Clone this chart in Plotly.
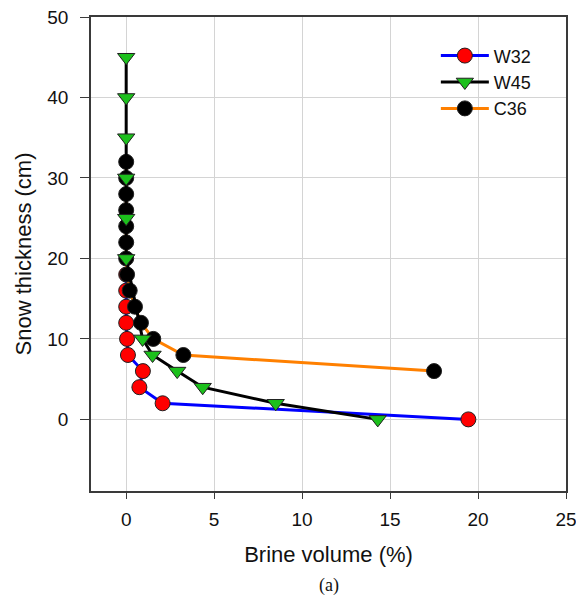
import plotly.graph_objects as go

# W32 series
w32_x = [0.0, 0.0, 0.0, 0.0, 0.05, 0.1, 0.95, 0.75, 2.07, 19.45]
w32_y = [18, 16, 14, 12, 10, 8, 6, 4, 2, 0]

# W45 series
w45_x = [0.0, 0.0, 0.0, 0.0, 0.0, 0.0, 0.93, 1.5, 2.9, 4.35, 8.5, 14.3]
w45_y = [45, 40, 35, 30, 25, 20, 10, 8, 6, 4, 2, 0]

# C36 series
c36_x = [0.0, 0.0, 0.0, 0.0, 0.0, 0.0, 0.0, 0.05, 0.2, 0.5, 0.84, 1.54, 3.25, 17.5]
c36_y = [32, 30, 28, 26, 24, 22, 20, 18, 16, 14, 12, 10, 8, 6]

x_ticks = [0, 5, 10, 15, 20, 25]
y_ticks = [0, 10, 20, 30, 40, 50]

fig = go.Figure()
fig.add_trace(go.Scatter(
    x=w32_x, y=w32_y, name="W32", mode="lines+markers", legendrank=1,
    line=dict(color="#0000ff", width=3),
    marker=dict(symbol="circle", size=15, color="#ff0000", line=dict(color="#202020", width=1)),
))
fig.add_trace(go.Scatter(
    x=c36_x, y=c36_y, name="C36", mode="lines+markers", legendrank=3,
    line=dict(color="#ff8000", width=3),
    marker=dict(symbol="circle", size=15, color="#000000", line=dict(color="#202020", width=1)),
))
fig.add_trace(go.Scatter(
    x=w45_x, y=w45_y, name="W45", mode="lines+markers", legendrank=2,
    line=dict(color="#000000", width=3),
    marker=dict(symbol="triangle-down", size=15, color="#1cc01c", line=dict(color="#202020", width=1)),
))

axis_common = dict(
    showline=True, linecolor="#3a3a3a", linewidth=1.5, mirror=True,
    showgrid=True, gridcolor="#d4d4d4", gridwidth=1,
    ticks="outside", tickcolor="#3a3a3a",
    zeroline=False, automargin=False, ticklabeloverflow="allow",
    tickfont=dict(family="Liberation Sans, Arial, sans-serif", size=19, color="#111111"),
)

fig.update_layout(
    width=576, height=593,
    margin=dict(l=83, r=18, t=9, b=110),
    paper_bgcolor="white", plot_bgcolor="white",
    font=dict(family="Liberation Sans, Arial, sans-serif", color="#111111"),
    showlegend=True,
    legend=dict(
        x=0.726, y=0.957, xanchor="left", yanchor="top",
        bgcolor="rgba(0,0,0,0)", borderwidth=0,
        font=dict(size=18, family="Liberation Sans, Arial, sans-serif", color="#111111"),
        tracegroupgap=0, itemwidth=48,
    ),
    xaxis=dict(
        range=[-2, 25], tickvals=x_ticks, ticklen=6, ticklabelstandoff=4,
        title=dict(text="Brine volume (%)", font=dict(size=22), standoff=18),
        **axis_common,
    ),
    yaxis=dict(
        range=[-8.9, 50], tickvals=y_ticks, ticklen=9, ticklabelstandoff=8,
        title=dict(text="Snow thickness (cm)", font=dict(size=22), standoff=10),
        **axis_common,
    ),
    annotations=[dict(
        text="(a)", xref="paper", yref="paper", x=0.5, y=-0.2),
    ],
)
fig.update_annotations(
    xanchor="center", yanchor="middle", showarrow=False,
    font=dict(family="Liberation Serif, Times New Roman, serif", size=18, color="#111111"),
)

fig.write_html("out.html")
